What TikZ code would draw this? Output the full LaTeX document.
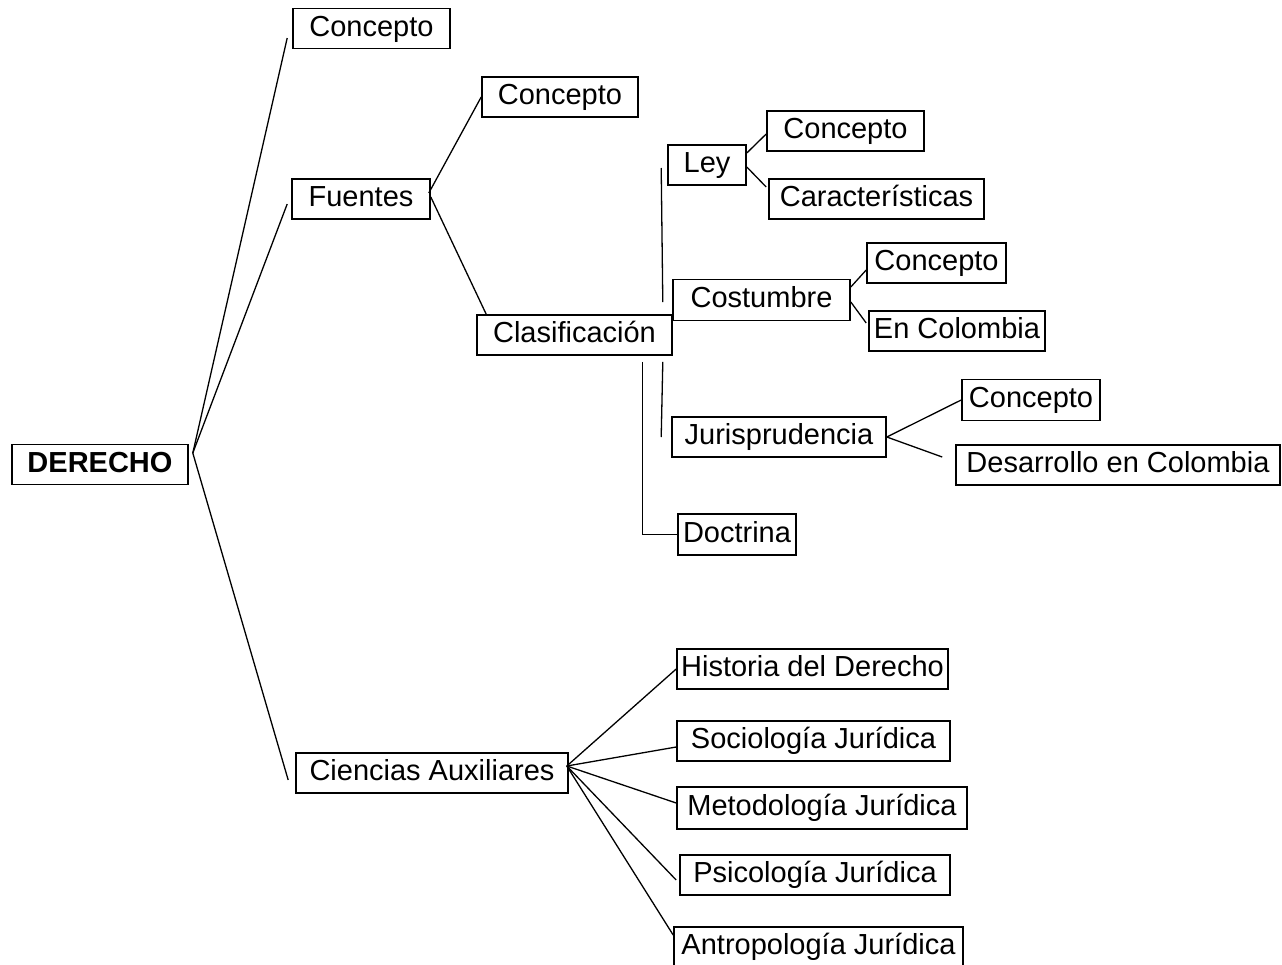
\documentclass[tikz,border=0pt]{standalone}
\usepackage{fontspec}
\setmainfont{Liberation Sans}
\usetikzlibrary{positioning}
\tikzset{%
    base/.style = {
        rectangle, draw=black, line width=1.6pt, inner sep=0pt,
        minimum height=40pt, text height=21pt, text depth=6pt,
        text centered, font=\fontsize{29pt}{34pt}\selectfont
    },
    rootBox/.style = {base, font=\fontsize{29pt}{34pt}\selectfont\bfseries},
    link/.style = {line width=1.3pt},
}
\begin{document}
\begin{tikzpicture}[x=1pt, y=-1pt]
        \useasboundingbox (0,0) rectangle (1282,964);
        % Nodes position
        \node (derecho)   [rootBox, minimum width=176pt] at (100,464.5) {DERECHO};
        \node (concepto)  [base, minimum width=157pt] at (371.5,28.5) {Concepto};
        \node (fuentes)   [base, minimum width=138pt] at (361,199) {Fuentes};
        \node (ciencias)  [base, minimum width=272pt] at (432,773) {Ciencias Auxiliares};

        \node (fuentesConcepto) [base, minimum width=156pt] at (560,97) {Concepto};
        \node (clasif)    [base, minimum width=195pt] at (574.5,335) {Clasificación};

        \node (ley)       [base, minimum width=78pt] at (707,165) {Ley};
        \node (leyConcepto) [base, minimum width=157pt] at (845.5,131) {Concepto};
        \node (caract)    [base, minimum width=215pt] at (876.5,199) {Características};

        \node (costumbre) [base, minimum width=177pt, minimum height=41pt] at (761.5,300) {Costumbre};
        \node (costConcepto) [base, minimum width=139pt] at (936.5,263) {Concepto};
        \node (enColombia) [base, minimum width=176pt] at (957,331) {En Colombia};

        \node (juris)     [base, minimum width=214pt] at (779,437) {Jurisprudencia};
        \node (jurisConcepto) [base, minimum width=138pt, minimum height=41pt] at (1031,400) {Concepto};
        \node (desarrollo) [base, minimum width=324pt] at (1118,465) {Desarrollo en Colombia};

        \node (doctrina)  [base, minimum width=118pt, minimum height=41pt] at (737,534.5) {Doctrina};

        \node (historia)  [base, minimum width=271pt] at (812.5,669) {Historia del Derecho};
        \node (socio)     [base, minimum width=273pt] at (813.5,741) {Sociología Jurídica};
        \node (metodo)    [base, minimum width=290pt, minimum height=42pt] at (822,808) {Metodología Jurídica};
        \node (psico)     [base, minimum width=270pt] at (815,875) {Psicología Jurídica};
        \node (antropo)   [base, minimum width=289pt] at (818.5,947) {Antropología Jurídica};

        \coordinate (derechoHub) at ([xshift=4pt,yshift=11.5pt]derecho.east);
        \coordinate (cienciasHub) at ([xshift=-2pt,yshift=7pt]ciencias.east);

        % Line specification
        \draw[link] (derechoHub) -- ([xshift=-5pt,yshift=-9.5pt]concepto.west);
        \draw[link] (derechoHub) -- ([xshift=-4pt,yshift=-5pt]fuentes.west);
        \draw[link] (derechoHub) -- ([xshift=-7pt,yshift=-7pt]ciencias.west);

        \draw[link] ([xshift=-2pt,yshift=6pt]fuentes.east) -- (fuentesConcepto.west);
        \draw[link] ([yshift=2pt]fuentes.east) -- ([xshift=10pt]clasif.north west);

        \draw[link] ([xshift=-10pt,yshift=12pt]clasif.north east) -- ([xshift=-6pt,yshift=-3pt]ley.west);
        \draw[link] ([xshift=-10pt,yshift=-6pt]clasif.south east) -- ([xshift=-10pt]juris.west);
        \draw[link] ([xshift=-30pt,yshift=-6pt]clasif.south east) |- (doctrina.west);

        \draw[link] ([yshift=12pt]ley.east) -- ([yshift=-3pt]leyConcepto.west);
        \draw[link] ([yshift=-2pt]ley.east) -- ([xshift=-2pt,yshift=12pt]caract.west);

        \draw[link] ([yshift=13pt]costumbre.east) -- ([yshift=-7pt]costConcepto.west);
        \draw[link] ([yshift=-2pt]costumbre.east) -- ([xshift=-2pt,yshift=8pt]enColombia.west);

        \draw[link] (juris.east) -- (jurisConcepto.west);
        \draw[link] (juris.east) -- ([xshift=-13pt,yshift=8pt]desarrollo.west);

        \draw[link] (cienciasHub) -- (historia.west);
        \draw[link] (cienciasHub) -- ([yshift=-6pt]socio.west);
        \draw[link] (cienciasHub) -- ([yshift=5pt]metodo.west);
        \draw[link] (cienciasHub) -- ([xshift=-3pt,yshift=-5pt]psico.west);
        \draw[link] (cienciasHub) -- ([yshift=12pt]antropo.west);
    \end{tikzpicture}
\end{document}
